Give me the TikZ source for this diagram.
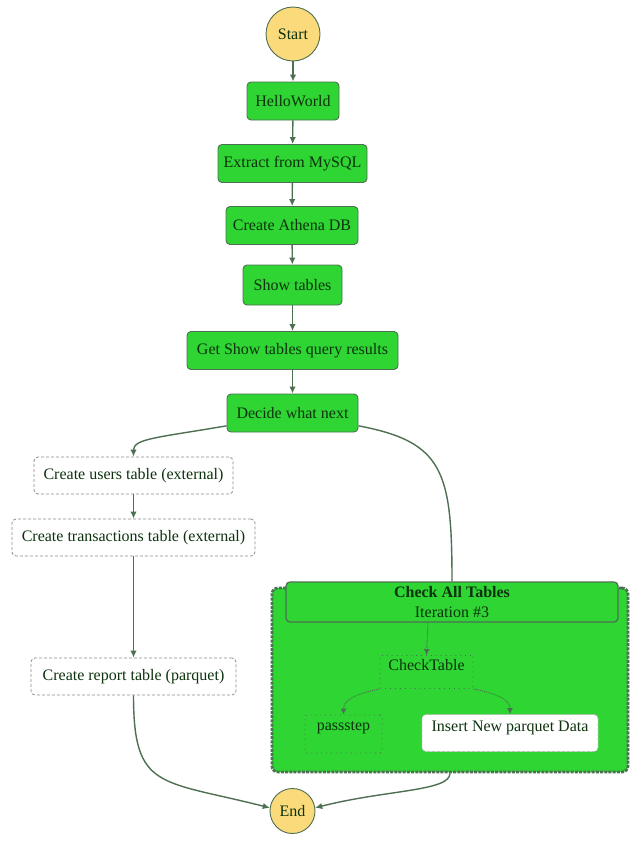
\documentclass[tikz,border=0pt]{standalone}
\usepackage{fontspec}
\setmainfont{Liberation Serif}
\usetikzlibrary{arrows.meta}
\definecolor{stategreen}{RGB}{46,213,51}
\definecolor{edgecol}{RGB}{78,112,82}
\definecolor{txtcol}{RGB}{14,50,14}
\definecolor{termfill}{RGB}{250,218,122}
\definecolor{dashgray}{RGB}{140,140,140}
\tikzset{
  base/.style={font=\fontsize{16}{19}\selectfont, text=txtcol, inner sep=0pt, align=center},
  done/.style={base, draw=edgecol, line width=0.9pt, fill=stategreen, rounded corners=4pt},
  todo/.style={base, draw=dashgray, line width=0.8pt, dash pattern=on 3pt off 2pt, fill=white, rounded corners=4pt},
  idle/.style={base, draw=edgecol, line width=0.9pt, dash pattern=on 0.9pt off 4pt, rounded corners=2pt},
  term/.style={base, circle, draw=edgecol, line width=0.9pt, fill=termfill},
  link/.style={draw=edgecol, line width=1.4pt, -{Latex[length=7pt,width=6.5pt]}},
  plain/.style={draw=edgecol, line width=1.4pt},
  inner/.style={draw=edgecol, line width=0.9pt, dash pattern=on 1.2pt off 1pt, -{Latex[length=6pt,width=6pt]}},
}
\begin{document}
\begin{tikzpicture}[x=1pt,y=1pt]
\useasboundingbox[fill=white] (0,0) rectangle (641,-851);

% map state container
\node[draw=edgecol, line width=2.8pt, dash pattern=on 3pt off 1.2pt, fill=stategreen,
      rounded corners=6pt, minimum width=356pt, minimum height=184pt, inner sep=0pt]
      (map) at (450,-680) {};
\node[done, line width=1.3pt, minimum width=332pt, minimum height=40pt] (maphead) at (452,-602)
      {\textbf{Check All Tables}\\[1pt]Iteration \#3};

% main flow
\node[term, minimum size=54pt] (start) at (293,-34) {Start};
\node[done, minimum width=92pt, minimum height=38pt] (hello) at (293,-101) {HelloWorld};
\node[done, minimum width=149pt, minimum height=38pt] (extract) at (292.5,-163.5) {Extract from MySQL};
\node[done, minimum width=132pt, minimum height=38pt] (athena) at (292,-225.5) {Create Athena DB};
\node[done, minimum width=99pt, minimum height=40pt] (show) at (292.5,-285) {Show tables};
\node[done, minimum width=211pt, minimum height=38pt] (results) at (292.5,-350.5) {Get Show tables query results};
\node[done, minimum width=131pt, minimum height=38pt] (decide) at (292.5,-413) {Decide what next};

% left branch
\node[todo, minimum width=199pt, minimum height=37pt] (users) at (133.5,-475.5) {Create users table (external)};
\node[todo, minimum width=243pt, minimum height=37pt] (trans) at (133.5,-537.5) {Create transactions table (external)};
\node[todo, minimum width=205pt, minimum height=37pt] (report) at (133.5,-676.5) {Create report table (parquet)};

% iterator contents
\node[idle, minimum width=93pt, minimum height=33pt] (check) at (426.5,-672) {};
\node[base] at (426.5,-665) {CheckTable};
\node[idle, minimum width=77pt, minimum height=38pt] (pass) at (343.5,-734) {};
\node[base] at (343.5,-728) {passstep};
\node[todo, draw=dashgray!60, minimum width=176pt, minimum height=37pt] (insert) at (510,-733) {};
\node[base] at (510,-728) {Insert New parquet Data};

\node[term, minimum size=45pt] (end) at (292.5,-811) {End};

% connectors
\draw[link] (start) -- (hello);
\draw[link] (hello) -- (extract);
\draw[link] (extract) -- (athena);
\draw[link] (athena) -- (show);
\draw[link] (show) -- (results);
\draw[link] (results) -- (decide);
\draw[link] (decide.191) .. controls +(-70,-12) and +(0,18) .. (users.north);
\draw[plain] (decide.349) .. controls +(85,-16) and +(0,110) .. (maphead.north);
\draw[link] (users) -- (trans);
\draw[link] (trans) -- (report);
\draw[link] (report.south) .. controls +(0,-95) and +(-110,28) .. (end.172);
\draw[link] (map.south) .. controls +(0,-18) and +(70,18) .. (end.8);
\draw[inner] (maphead.south -| 428,0) -- (check.north -| 426.5,0);
\draw[inner] (check.south west) .. controls +(-25,-5) and +(0,14) .. (pass.north);
\draw[inner] (check.south east) .. controls +(25,-5) and +(0,14) .. (insert.north);
\end{tikzpicture}
\end{document}
